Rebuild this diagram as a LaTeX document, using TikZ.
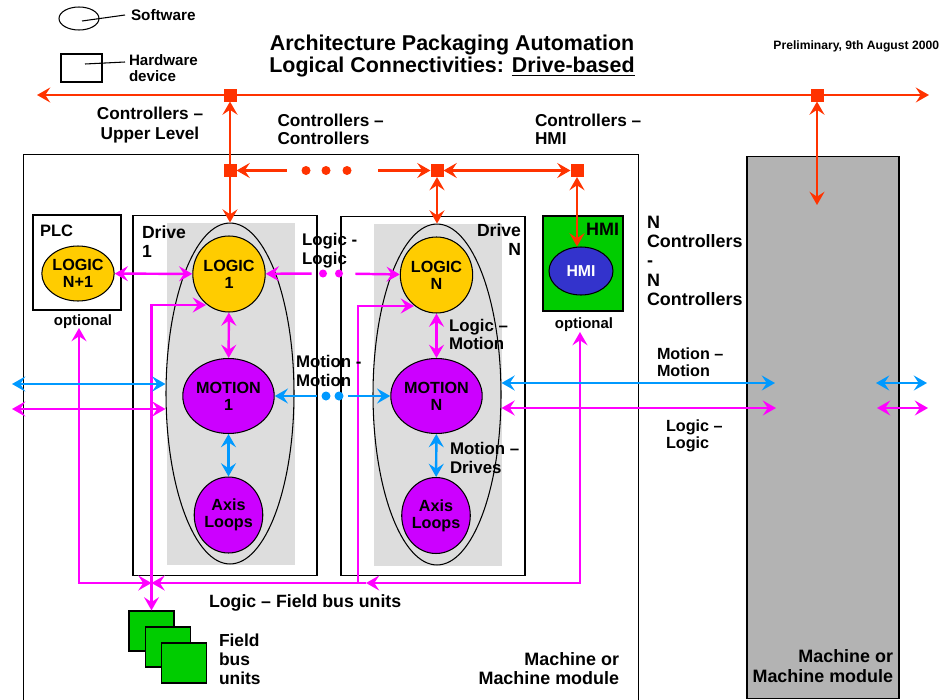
\documentclass[tikz,border=0pt]{standalone}
\usepackage{fontspec}
\setmainfont{Liberation Sans}
\usetikzlibrary{arrows.meta,shapes.geometric}
\definecolor{cRed}{HTML}{FF3300}
\definecolor{cMag}{HTML}{FF00FF}
\definecolor{cBlue}{HTML}{0099FF}
\definecolor{cGold}{HTML}{FFCC00}
\definecolor{cPur}{HTML}{CC00FF}
\definecolor{cGreen}{HTML}{00CC00}
\definecolor{cHmi}{HTML}{3333CC}
\definecolor{cLgray}{HTML}{DDDDDD}
\definecolor{cDgray}{HTML}{B3B3B3}
\newcommand\fsz[2]{\fontsize{#1}{#2}\selectfont\bfseries}
\begin{document}
\begin{tikzpicture}[x=0.02cm,y=-0.02cm,
  >={Stealth[length=7.5pt,width=8.5pt,inset=2.8pt]},
  rl/.style={cRed,line width=1.4pt},
  ml/.style={cMag,line width=1.4pt},
  bll/.style={cBlue,line width=1.4pt},
  txt/.style={inner sep=0pt,outer sep=0pt,align=left,text=black},
  frame/.style={draw=black,line width=0.6pt,inner sep=0pt,outer sep=0pt},
  graybg/.style={fill=cLgray,inner sep=0pt,outer sep=0pt},
  bigell/.style={ellipse,draw=black,line width=0.6pt,inner sep=0pt,minimum width=25.6mm,minimum height=68.2mm},
  soft/.style={ellipse,draw=black,line width=0.6pt,inner sep=0pt,align=center,font=\fsz{9.2}{9.6}},
  logicn/.style={soft,fill=cGold,minimum width=12.2mm,minimum height=15.2mm},
  motionn/.style={soft,fill=cPur,minimum width=15mm,minimum height=15mm},
  axisn/.style={soft,fill=cPur,minimum width=12.2mm,minimum height=15.2mm},
  sq/.style={fill=cRed,minimum size=2.6mm,inner sep=0pt,outer sep=0pt},
  rdot/.style={circle,fill=cRed,minimum size=1.8mm,inner sep=0pt},
  mdot/.style={circle,fill=cMag,minimum size=1.6mm,inner sep=0pt},
  bdot/.style={circle,fill=cBlue,minimum size=1.8mm,inner sep=0pt},
  fbu/.style={draw=black,line width=0.7pt,fill=cGreen,minimum width=9mm,minimum height=8mm,inner sep=0pt}
]
\useasboundingbox (0,0) rectangle (947,700);

% ---------- legend ----------
\node[ellipse,draw=black,line width=0.6pt,minimum width=8mm,minimum height=4.6mm,inner sep=0pt] (lgE) at (79,18.5) {};
\node[txt,anchor=north west,font=\fsz{8.7}{9.1}] (lgS) at (131,9) {Software};
\draw[line width=0.6pt] ([shift={(3,2.5)}]lgE.center) -- ([shift={(-6,6)}]lgS.north west);
\node[frame,minimum width=8.2mm,minimum height=5.6mm] (lgR) at (81.5,68) {};
\node[txt,anchor=north west,font=\fsz{8.6}{9.1}] (lgH) at (129,55) {Hardware\\device};
\draw[line width=0.6pt] ([shift={(3.5,-4)}]lgR.center) -- ([shift={(-4,7)}]lgH.north west);

% ---------- title ----------
\node[txt,align=center,anchor=north,font=\fsz{12.2}{12.5}] (title) at (452,35)
  {Architecture Packaging Automation\\Logical Connectivities: \underline{Drive-based}};
\node[txt,anchor=north east,font=\fsz{6.9}{7.5}] (prelim) at (939,41) {Preliminary, 9th August 2000};

% ---------- machine boxes ----------
\node[frame,minimum width=123.2mm,minimum height=111.2mm] (mach) at (331,432) {};
\node[frame,fill=cDgray,minimum width=30.4mm,minimum height=108.6mm] (mach2) at (823,427.5) {};

% ---------- PLC ----------
\node[frame,minimum width=17.6mm,minimum height=19mm] (plc) at (77,262.5) {};
\node[txt,anchor=north west,font=\fsz{9.4}{10}] (plcT) at (40,225) {PLC};
\node[logicn,minimum width=12.8mm,minimum height=11mm] (LP) at (78,273.5) {LOGIC\\N+1};
\node[txt,anchor=north,font=\fsz{8.5}{9}] (opt1) at (83,315) {optional};

% ---------- Drive 1 ----------
\node[frame,minimum width=36.8mm,minimum height=72.2mm] (dr1) at (225,395.5) {};
\node[graybg,minimum width=25.6mm,minimum height=68.4mm] (g1) at (231,394) {};
\node[bigell] (E1) at (230,393.5) {};
\node[txt,anchor=north west,font=\fsz{10}{10.8}] (dr1T) at (142,226) {Drive\\1};
\node[logicn] (L1) at (229,274) {LOGIC\\1};
\node[motionn] (M1) at (228.5,396) {MOTION\\1};
\node[axisn] (A1) at (228.5,515) {Axis\\Loops};

% ---------- Drive N ----------
\node[frame,minimum width=36.8mm,minimum height=72mm] (drN) at (433,396) {};
\node[graybg,minimum width=25.6mm,minimum height=68.4mm] (gN) at (438,395) {};
\node[bigell] (EN) at (437,394.5) {};
\node[txt,align=right,anchor=north east,font=\fsz{10}{10.8}] (drNT) at (521,224) {Drive\\N};
\node[logicn] (LN) at (436.5,275) {LOGIC\\N};
\node[motionn] (MN) at (436.5,396) {MOTION\\N};
\node[axisn] (AN) at (436,515.5) {Axis\\Loops};

% ---------- HMI ----------
\node[frame,fill=cGreen,minimum width=16mm,minimum height=19mm] (hmiB) at (583,263.5) {};
\node[txt,anchor=north east,font=\fsz{10.2}{11}] (hmiT) at (619,223) {HMI};
\node[ellipse,draw=black,line width=0.6pt,fill=cHmi,inner sep=0pt,minimum width=12.8mm,minimum height=9.6mm,text=white,font=\fsz{9}{9.5}] (HMI) at (581,271) {HMI};
\node[txt,anchor=north,font=\fsz{8.5}{9}] (opt2) at (584,318) {optional};

% ---------- field bus units ----------
\node[fbu] (F1) at (151.5,631) {};
\node[fbu] (F2) at (168,647) {};
\node[fbu] (F3) at (184,663) {};

% ---------- red controller connections ----------
\coordinate (busL) at (37,95);
\coordinate (busR) at (929,95);
\draw[rl,<->] (busL) -- (busR);
\node[sq] (T1) at (230,95) {};
\node[sq] (T2) at (817,95) {};
\node[sq] (S1) at (230,170.5) {};
\node[sq] (S2) at (437,170.5) {};
\node[sq] (S3) at (577,170.5) {};
\node[rdot] (C1) at (306,170.5) {};
\node[rdot] (C2) at (326,170.5) {};
\node[rdot] (C3) at (347,170.5) {};
\draw[rl,<->] (T1) -- (E1);
\draw[rl,->,shorten <=2.9mm] (C1) -- (S1);
\draw[rl,->,shorten <=5.3mm] (C3) -- (S2);
\draw[rl,<->] (S2) -- (S3);
\draw[rl,<->] (S2) -- (EN);
\draw[rl,<->] (S3) -- (S3 |- HMI.north);
\coordinate (gT) at (817,205);
\draw[rl,<->] (T2) -- (gT);

% ---------- magenta logic connections ----------
\draw[ml,<->] (LP) -- (L1);
\node[mdot] (D1) at (323,273.5) {};
\node[mdot] (D2) at (339,273.5) {};
\draw[ml,->,shorten <=1.4mm] (D1) -- (L1);
\draw[ml,->,shorten <=2.4mm] (D2) -- (LN);
\draw[ml,<->] (L1) -- (M1);
\draw[ml,<->] (LN) -- (MN);

\coordinate (pA) at (79,328);
\coordinate (pB) at (580,332);
\coordinate (pJ) at (151.5,583);
\coordinate (jN) at (358,583);
\coordinate (jNa) at (366,583);
\coordinate (jNt) at (358,306);
\coordinate (kN) at (414,306);
\coordinate (k1) at (206,305);
\draw[ml,<->] (pA) |- (pJ);
\draw[ml,<->] (pB) |- (jNa);
\draw[ml] (jNa) -- (jN);
\draw[ml,->] (jN) -- (pJ);
\draw[ml,->] (jN) -- (jNt) -- (kN);
\draw[ml,<->] (k1) -| (F1.north);

\coordinate (mL) at (12,409);
\draw[ml,<->] (mL) -- (mL -| E1.west);
\coordinate (mR) at (776,408);
\draw[ml,<->] (mR -| EN.east) -- (mR);
\coordinate (mR1) at (877,408);
\coordinate (mR2) at (928,408);
\draw[ml,<->] (mR1) -- (mR2);

% ---------- blue motion connections ----------
\node[bdot] (B1) at (326,396) {};
\node[bdot] (B2) at (339,396) {};
\draw[bll,->,shorten <=0.9mm] (B1) -- (M1);
\draw[bll,->,shorten <=0.9mm] (B2) -- (MN);
\draw[bll,<->] (M1) -- (A1);
\draw[bll,<->] (MN) -- (AN);
\coordinate (bL) at (12,384);
\draw[bll,<->] (bL) -- (bL -| E1.west);
\coordinate (bR) at (775,383);
\draw[bll,<->] (bR -| EN.east) -- (bR);
\coordinate (bR1) at (876,383);
\coordinate (bR2) at (927,383);
\draw[bll,<->] (bR1) -- (bR2);

% ---------- labels ----------
\node[txt,align=center,anchor=north,font=\fsz{9.8}{11.3}] (lbUp) at (150,107) {Controllers --\\Upper Level};
\node[txt,anchor=north west,font=\fsz{9.8}{10.2}] (lbCC) at (277.5,114) {Controllers --\\Controllers};
\node[txt,anchor=north west,font=\fsz{9.8}{10.2}] (lbCH) at (535,114) {Controllers --\\HMI};
\node[txt,anchor=north west,font=\fsz{9.6}{10.8}] (lbLL) at (302,233) {Logic -\\Logic};
\node[txt,anchor=north west,font=\fsz{9.6}{11.2}] (lbMM) at (296,355) {Motion -\\Motion};
\node[txt,anchor=north west,font=\fsz{9.6}{10.2}] (lbLM) at (449,319) {Logic --\\Motion};
\node[txt,anchor=north west,font=\fsz{9.6}{10.8}] (lbMD) at (450,442) {Motion --\\Drives};
\node[txt,anchor=north west,font=\fsz{10.2}{11}] (lbNC) at (647,216) {N\\Controllers\\-\\N\\Controllers};
\node[txt,anchor=north west,font=\fsz{9.2}{9.6}] (lbMMr) at (657,348) {Motion --\\Motion};
\node[txt,anchor=north west,font=\fsz{9.2}{9.6}] (lbLLr) at (666,420) {Logic --\\Logic};
\node[txt,anchor=north west,font=\fsz{10.1}{10.8}] (lbLF) at (209,595) {Logic -- Field bus units};
\node[txt,anchor=north west,font=\fsz{9.9}{10.8}] (lbFB) at (219,634) {Field\\bus\\units};
\node[txt,align=right,anchor=north east,font=\fsz{10.2}{10.8}] (lbM1) at (619,653) {Machine or\\Machine module};
\node[txt,align=right,anchor=north east,font=\fsz{10.2}{11.2}] (lbM2) at (893,650) {Machine or\\Machine module};
\end{tikzpicture}
\end{document}
